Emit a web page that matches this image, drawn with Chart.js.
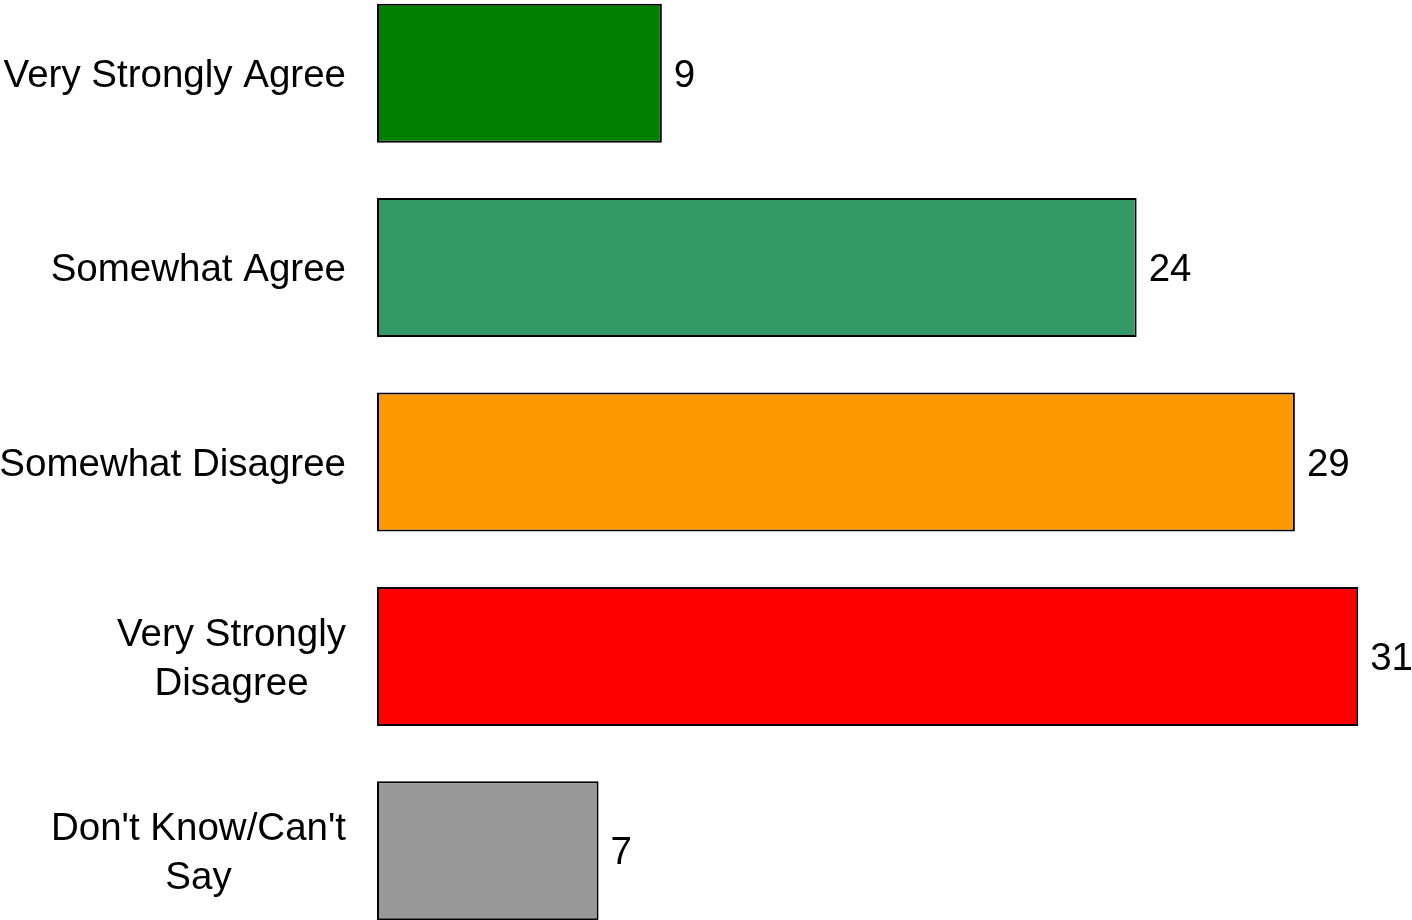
<!DOCTYPE html>
<html>
<head>
<meta charset="utf-8">
<script src="https://cdn.jsdelivr.net/npm/chart.js@4"></script>
<style>
html,body{margin:0;padding:0;background:#fff;overflow:hidden;width:1412px;height:920px;}
#wrap{position:absolute;left:0;top:-24px;width:1412px;height:972px;}
</style>
</head>
<body>
<div id="wrap"><canvas id="c"></canvas></div>
<script>
const categories = [
  ["Very Strongly Agree"],
  ["Somewhat Agree"],
  ["Somewhat Disagree"],
  ["Very Strongly", "Disagree"],
  ["Don't Know/Can't", "Say"]
];
const values = [9, 24, 29, 31, 7];
const barColors = ["#008000", "#339966", "#FF9900", "#FF0000", "#999999"];

const FONT = '38.5px "Liberation Sans", Arial, sans-serif';

const labelPlugin = {
  id: 'labelPlugin',
  afterDatasetsDraw(chart) {
    const ctx = chart.ctx;
    const yScale = chart.scales.y;
    const meta = chart.getDatasetMeta(0);
    ctx.save();
    ctx.font = FONT;
    ctx.fillStyle = '#000';
    ctx.textBaseline = 'middle';
    const lineH = 49;
    const rightX = 346;
    categories.forEach((lines, i) => {
      const cy = yScale.getPixelForValue(i) + 3;
      const widths = lines.map(l => ctx.measureText(l).width);
      const maxW = Math.max(...widths);
      const centerX = rightX - maxW / 2;
      const startY = cy - (lines.length - 1) * lineH / 2;
      ctx.textAlign = 'center';
      lines.forEach((l, j) => {
        ctx.fillText(l, centerX, startY + j * lineH);
      });
      const bar = meta.data[i];
      ctx.textAlign = 'left';
      ctx.fillText(String(values[i]), bar.x + 12, cy);
    });
    ctx.restore();
  }
};

new Chart(document.getElementById('c'), {
  type: 'bar',
  data: {
    labels: categories,
    datasets: [{
      data: values,
      backgroundColor: barColors,
      borderColor: '#000',
      borderWidth: 2,
      borderSkipped: false,
      barPercentage: 0.715,
      categoryPercentage: 1.0
    }]
  },
  options: {
    indexAxis: 'y',
    responsive: true,
    maintainAspectRatio: false,
    animation: false,
    layout: { padding: { left: 377, right: 0, top: 0, bottom: 0 } },
    plugins: { legend: { display: false }, tooltip: { enabled: false } },
    scales: {
      x: { min: 0, max: 32.7, display: false, grid: { display: false } },
      y: { display: false, offset: true, grid: { display: false } }
    }
  },
  plugins: [labelPlugin]
});
</script>
</body>
</html>
